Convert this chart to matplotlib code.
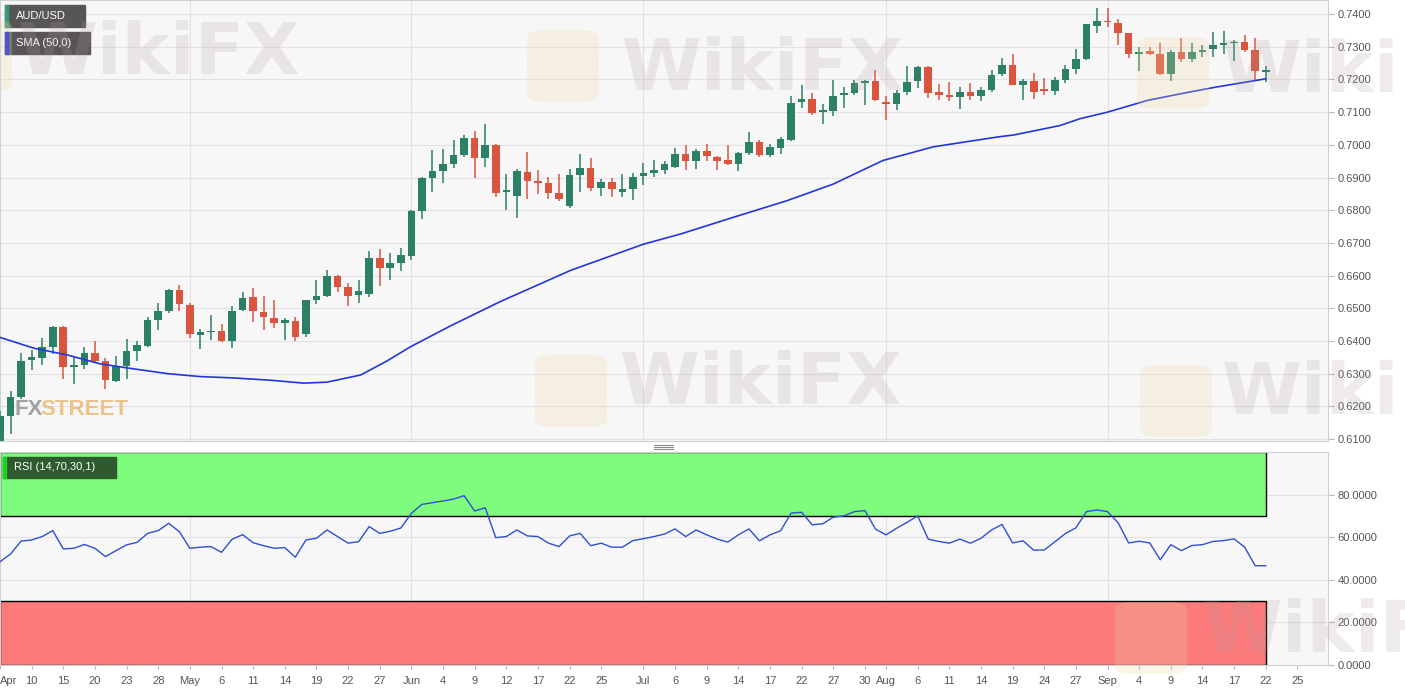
"""
AUD/USD daily candles with SMA(50) and RSI(14) panel.
Writes out.png
"""

import matplotlib
matplotlib.use("Agg")
import matplotlib.pyplot as plt
from matplotlib.patches import Rectangle, FancyBboxPatch
from matplotlib.lines import Line2D

# ── Data: AUD/USD daily, 7 Apr - 22 Sep 2020 ──
OPEN = [
    0.6060, 0.6172, 0.6228, 0.6342, 0.6348, 0.6383, 0.6442, 0.6320, 0.6328, 0.6363,
    0.6340, 0.6279, 0.6322, 0.6369, 0.6386, 0.6464, 0.6491, 0.6556, 0.6511, 0.6417,
    0.6427, 0.6432, 0.6401, 0.6495, 0.6534, 0.6490, 0.6471, 0.6456, 0.6462, 0.6422,
    0.6526, 0.6537, 0.6598, 0.6565, 0.6541, 0.6543, 0.6654, 0.6623, 0.6637, 0.6660,
    0.6799, 0.6897, 0.6921, 0.6941, 0.6969, 0.7020, 0.6961, 0.6998, 0.6855, 0.6843,
    0.6918, 0.6888, 0.6884, 0.6852, 0.6812, 0.6908, 0.6929, 0.6867, 0.6887, 0.6857,
    0.6865, 0.6904, 0.6914, 0.6924, 0.6933, 0.6972, 0.6950, 0.6982, 0.6964, 0.6954,
    0.6940, 0.6976, 0.7010, 0.6970, 0.6990, 0.7015, 0.7130, 0.7139, 0.7100, 0.7102,
    0.7151, 0.7158, 0.7189, 0.7194, 0.7131, 0.7124, 0.7162, 0.7194, 0.7237, 0.7161,
    0.7151, 0.7145, 0.7161, 0.7149, 0.7167, 0.7216, 0.7245, 0.7184, 0.7194, 0.7170,
    0.7165, 0.7197, 0.7233, 0.7261, 0.7364, 0.7380, 0.7374, 0.7341, 0.7279, 0.7287,
    0.7277, 0.7218, 0.7284, 0.7261, 0.7283, 0.7292, 0.7306, 0.7310, 0.7314, 0.7291,
    0.7224,
]
HIGH = [
    0.6185, 0.6248, 0.6362, 0.6371, 0.6409, 0.6447, 0.6447, 0.6350, 0.6383, 0.6399,
    0.6348, 0.6355, 0.6406, 0.6399, 0.6473, 0.6515, 0.6559, 0.6571, 0.6515, 0.6437,
    0.6478, 0.6452, 0.6508, 0.6549, 0.6562, 0.6539, 0.6526, 0.6470, 0.6473, 0.6526,
    0.6585, 0.6617, 0.6603, 0.6577, 0.6586, 0.6676, 0.6681, 0.6669, 0.6685, 0.6802,
    0.6902, 0.6984, 0.6986, 0.7014, 0.7031, 0.7041, 0.7065, 0.7004, 0.6912, 0.6926,
    0.6977, 0.6922, 0.6902, 0.6912, 0.6926, 0.6973, 0.6961, 0.6895, 0.6900, 0.6910,
    0.6915, 0.6943, 0.6953, 0.6952, 0.6990, 0.6999, 0.6986, 0.7002, 0.6967, 0.6999,
    0.6978, 0.7038, 0.7015, 0.7004, 0.7025, 0.7149, 0.7184, 0.7159, 0.7125, 0.7198,
    0.7176, 0.7198, 0.7198, 0.7229, 0.7150, 0.7167, 0.7242, 0.7242, 0.7242, 0.7186,
    0.7191, 0.7176, 0.7188, 0.7178, 0.7229, 0.7267, 0.7279, 0.7202, 0.7220, 0.7205,
    0.7206, 0.7243, 0.7292, 0.7371, 0.7417, 0.7417, 0.7384, 0.7343, 0.7300, 0.7300,
    0.7312, 0.7289, 0.7328, 0.7310, 0.7305, 0.7346, 0.7349, 0.7320, 0.7336, 0.7328,
    0.7240,
]
LOW = [
    0.6040, 0.6116, 0.6222, 0.6312, 0.6328, 0.6360, 0.6284, 0.6267, 0.6315, 0.6332,
    0.6253, 0.6274, 0.6284, 0.6340, 0.6383, 0.6434, 0.6485, 0.6491, 0.6409, 0.6376,
    0.6403, 0.6396, 0.6379, 0.6493, 0.6457, 0.6435, 0.6440, 0.6403, 0.6401, 0.6413,
    0.6513, 0.6533, 0.6551, 0.6507, 0.6517, 0.6536, 0.6569, 0.6586, 0.6615, 0.6648,
    0.6774, 0.6856, 0.6884, 0.6929, 0.6963, 0.6898, 0.6931, 0.6839, 0.6800, 0.6776,
    0.6834, 0.6851, 0.6834, 0.6829, 0.6808, 0.6857, 0.6859, 0.6844, 0.6839, 0.6839,
    0.6831, 0.6878, 0.6902, 0.6912, 0.6930, 0.6923, 0.6926, 0.6952, 0.6923, 0.6938,
    0.6919, 0.6970, 0.6962, 0.6964, 0.6972, 0.7011, 0.7112, 0.7092, 0.7064, 0.7089,
    0.7114, 0.7153, 0.7123, 0.7133, 0.7076, 0.7106, 0.7152, 0.7174, 0.7143, 0.7138,
    0.7133, 0.7109, 0.7137, 0.7133, 0.7163, 0.7210, 0.7182, 0.7136, 0.7141, 0.7151,
    0.7151, 0.7189, 0.7218, 0.7259, 0.7341, 0.7361, 0.7305, 0.7267, 0.7226, 0.7274,
    0.7213, 0.7195, 0.7254, 0.7254, 0.7269, 0.7269, 0.7279, 0.7257, 0.7284, 0.7199,
    0.7192,
]
CLOSE = [
    0.6172, 0.6230, 0.6340, 0.6350, 0.6383, 0.6442, 0.6320, 0.6328, 0.6362, 0.6340,
    0.6282, 0.6322, 0.6369, 0.6389, 0.6464, 0.6491, 0.6556, 0.6513, 0.6420, 0.6427,
    0.6432, 0.6401, 0.6493, 0.6532, 0.6491, 0.6473, 0.6455, 0.6464, 0.6413, 0.6524,
    0.6539, 0.6598, 0.6565, 0.6537, 0.6553, 0.6654, 0.6623, 0.6637, 0.6664, 0.6799,
    0.6898, 0.6921, 0.6942, 0.6969, 0.7020, 0.6961, 0.6998, 0.6854, 0.6863, 0.6920,
    0.6888, 0.6884, 0.6853, 0.6835, 0.6908, 0.6929, 0.6867, 0.6887, 0.6866, 0.6865,
    0.6902, 0.6915, 0.6922, 0.6941, 0.6972, 0.6950, 0.6980, 0.6965, 0.6950, 0.6940,
    0.6976, 0.7008, 0.6970, 0.6994, 0.7017, 0.7127, 0.7139, 0.7098, 0.7106, 0.7149,
    0.7157, 0.7188, 0.7194, 0.7137, 0.7124, 0.7160, 0.7191, 0.7237, 0.7158, 0.7151,
    0.7146, 0.7161, 0.7149, 0.7169, 0.7215, 0.7245, 0.7184, 0.7194, 0.7162, 0.7165,
    0.7197, 0.7233, 0.7261, 0.7369, 0.7379, 0.7375, 0.7343, 0.7279, 0.7284, 0.7279,
    0.7216, 0.7284, 0.7261, 0.7284, 0.7289, 0.7304, 0.7310, 0.7315, 0.7289, 0.7226,
    0.7228,
]

# SMA(50): (candle index, value)
SMA_IDX = [0, 3.2, 6.4, 9.5, 12.6, 15.9, 19.0, 22.1, 25.6, 28.8, 31.0, 34.2, 36.7,
           38.9, 42.7, 47.4, 54.1, 61.0, 64.5, 69.7, 74.6, 79.0, 83.7, 88.5, 94.8,
           96.1, 100.5, 102.4, 105.0, 108.8, 111.9, 115.0, 120.0]
SMA_VAL = [0.6411, 0.6378, 0.6357, 0.6330, 0.6315, 0.6300, 0.6291, 0.6287, 0.6280,
           0.6271, 0.6274, 0.6296, 0.6339, 0.6382, 0.6446, 0.6520, 0.6616, 0.6696,
           0.6727, 0.6780, 0.6829, 0.6880, 0.6952, 0.6994, 0.7025, 0.7030, 0.7059,
           0.7080, 0.7100, 0.7136, 0.7156, 0.7175, 0.7202]

RSI = [
    48.5, 52.1, 58.2, 58.7, 60.3, 63.1, 54.5, 54.8, 56.6, 54.8,
    50.9, 53.7, 56.4, 57.6, 61.8, 63.1, 66.5, 62.6, 54.8, 55.3,
    55.6, 52.9, 59.0, 61.2, 57.4, 56.0, 54.8, 55.1, 50.6, 58.7,
    59.5, 63.4, 60.3, 57.2, 57.9, 65.0, 61.8, 62.8, 64.3, 71.2,
    75.4, 76.2, 77.0, 77.9, 79.5, 72.3, 73.8, 59.8, 60.3, 63.4,
    60.6, 60.3, 57.2, 55.6, 60.6, 61.8, 56.0, 57.2, 55.3, 55.3,
    58.4, 59.3, 60.3, 61.5, 63.9, 60.3, 63.4, 61.1, 59.1, 57.7,
    61.1, 63.9, 58.3, 61.1, 63.0, 71.3, 71.7, 65.8, 66.3, 69.4,
    70.0, 72.0, 72.5, 63.8, 61.1, 64.2, 67.0, 70.0, 59.1, 58.0,
    57.2, 59.1, 57.2, 59.5, 63.4, 66.0, 57.3, 58.3, 53.9, 54.0,
    57.8, 61.7, 64.4, 72.0, 72.8, 72.0, 66.8, 57.3, 58.1, 57.3,
    49.4, 56.5, 53.7, 56.1, 56.5, 58.0, 58.4, 59.2, 55.3, 46.6,
    46.6,
]
RSI_UPPER = 70
RSI_LOWER = 30

# x-axis labels (candle index -> label); index 123 is Sep 25, past the data
TICK_IDX = [0, 3, 6, 9, 12, 15, 18, 21, 24, 27, 30, 33, 36, 39, 42, 45, 48, 51, 54,
            57, 61, 64, 67, 70, 73, 76, 79, 82, 84, 87, 90, 93, 96, 99, 102, 105,
            108, 111, 114, 117, 120, 123]
TICK_LABELS = ["Apr", "10", "15", "20", "23", "28", "May", "6", "11", "14", "19", "22",
               "27", "Jun", "4", "9", "12", "17", "22", "25", "Jul", "6", "9", "14",
               "17", "22", "27", "30", "Aug", "6", "11", "14", "19", "24", "27", "Sep",
               "4", "9", "14", "17", "22", "25"]
MONTH_IDX = [18, 39, 61, 84, 105]

PRICE_TICKS = [0.61, 0.62, 0.63, 0.64, 0.65, 0.66, 0.67, 0.68, 0.69, 0.70,
               0.71, 0.72, 0.73, 0.74]
RSI_TICKS = [0, 20, 40, 60, 80]

# ── Style ──────────────────────────────────────────────────────
W, H = 1405, 692
UP = "#2b8066"
DOWN = "#d9553f"
BG = "#f7f7f8"
GRID = "#e2e2e6"
SPINE = "#d0d0dc"
LABEL = "#555555"

plt.rcParams["font.family"] = ["Liberation Sans", "DejaVu Sans"]


def fx(x):
    return x / W


def fy(y):
    return 1 - y / H


def label_box(fig, x0, y0, x1, y1, text, fill, stripe):
    fig.patches.append(Rectangle((fx(x0), fy(y1)), fx(x1 - x0), (y1 - y0) / H,
                                 transform=fig.transFigure, color=fill, zorder=20))
    fig.patches.append(Rectangle((fx(x0), fy(y1)), fx(2.5), (y1 - y0) / H,
                                 transform=fig.transFigure, color=stripe, zorder=21))
    fig.text(fx(x0 + 11), fy((y0 + y1) / 2), text, color="white", fontsize=8,
             va="center", ha="left", zorder=22)


def main():
    n = len(CLOSE)
    xs = list(range(n))

    fig = plt.figure(figsize=(W / 100, H / 100), dpi=100)
    fig.patch.set_facecolor("white")

    ax = fig.add_axes([0, fy(441), fx(1328), 441 / H])
    ax_rsi = fig.add_axes([0, fy(665), fx(1328), (665 - 452) / H])

    # ── main panel ──
    ax.set_facecolor(BG)
    colors = [UP if c >= o else DOWN for o, c in zip(OPEN, CLOSE)]
    bottoms = [min(o, c) for o, c in zip(OPEN, CLOSE)]
    heights = [max(abs(c - o), 0.00025) for o, c in zip(OPEN, CLOSE)]
    ax.vlines(xs, LOW, HIGH, colors=colors, linewidth=1.1, zorder=3)
    ax.bar(xs, heights, bottom=bottoms, width=0.72, color=colors, linewidth=0, zorder=4)
    ax.plot(SMA_IDX, SMA_VAL, color="#2536d8", linewidth=1.2, zorder=5)

    ax.set_xlim(0, 125.9)
    ax.set_ylim(0.6094, 0.7443)
    ax.set_yticks(PRICE_TICKS)
    ax.set_yticklabels([f"{v:.4f}" for v in PRICE_TICKS])
    ax.yaxis.tick_right()
    ax.set_xticks([])
    for v in PRICE_TICKS:
        ax.axhline(v, color=GRID, linewidth=0.8, zorder=1)
    for m in MONTH_IDX:
        ax.axvline(m, color=GRID, linewidth=0.8, zorder=1)

    # ── RSI panel ──
    ax_rsi.set_facecolor(BG)
    for v in RSI_TICKS[1:]:
        ax_rsi.axhline(v, color=GRID, linewidth=0.8, zorder=1)
    for m in MONTH_IDX:
        ax_rsi.axvline(m, color=GRID, linewidth=0.8, zorder=1)
    ax_rsi.add_patch(Rectangle((xs[0], RSI_UPPER), xs[-1] - xs[0], 100 - RSI_UPPER,
                               facecolor="#7dfc7d", edgecolor="black", linewidth=1,
                               zorder=2))
    ax_rsi.add_patch(Rectangle((xs[0], 0), xs[-1] - xs[0], RSI_LOWER,
                               facecolor="#fb7a7a", edgecolor="black", linewidth=1,
                               zorder=2))
    ax_rsi.plot(xs, RSI, color="#2f4fd2", linewidth=1.0, zorder=4)
    ax_rsi.set_xlim(0, 125.9)
    ax_rsi.set_ylim(0, 100)
    ax_rsi.set_yticks(RSI_TICKS)
    ax_rsi.set_yticklabels([f"{v:.4f}" for v in RSI_TICKS])
    ax_rsi.yaxis.tick_right()
    ax_rsi.set_xticks(TICK_IDX)
    ax_rsi.set_xticklabels(TICK_LABELS)
    ax_rsi.get_xticklabels()[0].set_ha("left")

    for a in (ax, ax_rsi):
        a.tick_params(axis="y", length=4, pad=3, labelsize=8, labelcolor=LABEL,
                      color="#b8b8c4")
        a.tick_params(axis="x", length=3, pad=5, labelsize=8, labelcolor=LABEL,
                      color="#b8b8c4")
        for s in a.spines.values():
            s.set_color(SPINE)
            s.set_linewidth(0.8)

    # panel divider handle
    for yy in (445, 447, 449):
        fig.add_artist(Line2D([fx(654), fx(673)], [fy(yy), fy(yy)],
                              transform=fig.transFigure, color="#8a8a8a", linewidth=0.8))

    # legend boxes
    label_box(fig, 5, 5, 85, 27, "AUD/USD", "#575555", "#3a9a78")
    label_box(fig, 5, 32, 90, 54, "SMA (50,0)", "#575555", "#1428e0")
    label_box(fig, 3, 457, 116, 478, "RSI (14,70,30,1)", "#2f5a30", "#22d022")

    # FXStreet logo
    fig.text(fx(15), fy(410), "FX", color="#8c8c8c", alpha=0.8, fontsize=16,
             fontweight="bold", va="center", ha="left", zorder=6)
    fig.text(fx(40), fy(410), "STREET", color="#ebb76e", alpha=0.8, fontsize=16,
             fontweight="bold", va="center", ha="left", zorder=6)

    # WikiFX watermarks
    for (x0, y0), (lx, ly) in [((622, 70), (527, 30)), ((1222, 72), (1137, 37)),
                               ((620, 385), (535, 355)), ((1222, 395), (1140, 365)),
                               ((1203, 632), (1115, 602)), ((18, 55), (-60, 20))]:
        fig.patches.append(FancyBboxPatch((fx(lx), fy(ly + 72)), fx(72), 72 / H,
                                          boxstyle="round,pad=0,rounding_size=0.012",
                                          transform=fig.transFigure,
                                          facecolor="#f2d9a6", edgecolor="none",
                                          alpha=0.25, zorder=30))
        fig.text(fx(x0), fy(y0), "WikiFX", color="#b49c9c", alpha=0.2, fontsize=52,
                 fontweight="bold", family="DejaVu Sans", va="center", ha="left",
                 zorder=31)

    fig.savefig("out.png", dpi=100)
    plt.close(fig)


if __name__ == "__main__":
    main()
